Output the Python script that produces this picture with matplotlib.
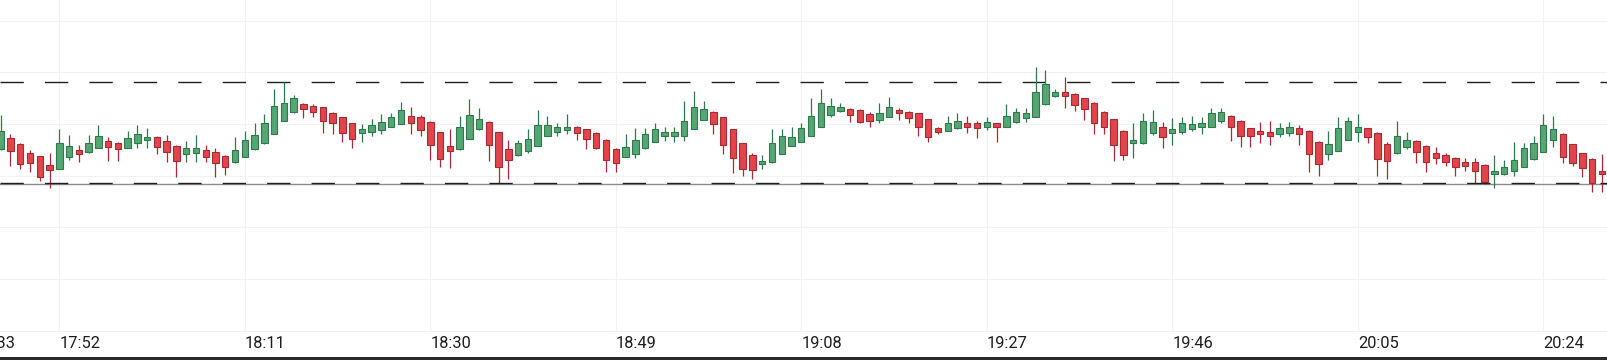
import matplotlib
matplotlib.use('Agg')
import matplotlib.pyplot as plt
import numpy as np
import pandas as pd
from matplotlib.patches import Rectangle

#%% Data: one-minute candles starting 17:46 (price levels)

start_time = '17:46'
opens = [733, 765, 747, 722, 712, 685, 674, 709, 730, 723, 737, 757, 752, 737, 750, 759, 770, 756, 743, 719,
         722, 730, 725, 712, 693, 710, 732, 750, 778, 817, 843, 869, 863, 858, 842, 828, 810, 782, 785, 790,
         800, 808, 832, 828, 815, 783, 742, 732, 763, 793, 815, 783, 733, 714, 728, 742, 772, 785, 790, 800,
         792, 782, 760, 733, 710, 718, 735, 755, 772, 772, 772, 793, 820, 843, 828, 792, 750, 715, 687, 693,
         718, 742, 755, 772, 800, 835, 847, 853, 850, 837, 820, 830, 850, 845, 840, 822, 795, 787, 795, 810,
         810, 798, 810, 800, 813, 825, 830, 867, 893, 903, 898, 885, 872, 845, 822, 788, 750, 750, 780, 800,
         782, 785, 792, 800, 800, 817, 832, 817, 795, 788, 783, 778, 782, 795, 787, 755, 718, 728, 760, 785,
         795, 782, 747, 720, 740, 757, 742, 720, 715, 707, 695, 693, 685, 657, 657, 667, 680, 702, 725, 760,
         778, 747, 720, 703, 668]
highs = [835, 778, 750, 730, 713, 720, 793, 774, 744, 775, 805, 770, 754, 788, 805, 795, 772, 774, 745, 757,
         775, 745, 735, 714, 770, 787, 810, 837, 912, 935, 895, 872, 867, 860, 844, 830, 812, 807, 822, 838,
         840, 873, 860, 835, 817, 785, 792, 832, 882, 855, 817, 785, 760, 760, 792, 850, 832, 812, 837, 802,
         794, 784, 762, 735, 778, 797, 795, 810, 800, 800, 877, 908, 878, 847, 830, 794, 752, 720, 715, 792,
         792, 800, 812, 885, 912, 885, 872, 857, 852, 845, 872, 890, 855, 847, 842, 824, 800, 832, 840, 832,
         817, 830, 812, 868, 857, 855, 980, 970, 912, 948, 900, 887, 874, 847, 824, 790, 810, 840, 850, 813,
         825, 828, 832, 828, 855, 855, 835, 819, 797, 815, 818, 810, 815, 805, 789, 757, 787, 828, 828, 837,
         797, 784, 755, 818, 783, 760, 744, 738, 720, 709, 705, 705, 687, 715, 700, 753, 752, 773, 837, 832,
         780, 749, 722, 705, 718]
lows = [730, 682, 673, 665, 638, 615, 672, 700, 695, 722, 736, 697, 697, 736, 737, 735, 718, 695, 650, 695,
        695, 695, 650, 655, 692, 709, 731, 749, 777, 816, 842, 825, 830, 782, 777, 755, 735, 755, 772, 778,
        799, 807, 777, 772, 700, 678, 675, 731, 762, 790, 697, 630, 643, 713, 720, 741, 771, 772, 778, 760,
        732, 732, 665, 665, 709, 705, 732, 754, 758, 755, 758, 792, 819, 777, 717, 660, 652, 643, 673, 692,
        717, 741, 754, 771, 799, 830, 843, 815, 812, 798, 812, 829, 820, 812, 772, 755, 778, 786, 793, 782,
        767, 790, 755, 799, 812, 815, 829, 866, 888, 855, 847, 820, 777, 777, 697, 700, 705, 749, 775, 735,
        745, 778, 788, 778, 799, 812, 758, 740, 740, 750, 745, 768, 772, 745, 665, 652, 700, 727, 759, 755,
        750, 652, 643, 719, 732, 692, 665, 687, 683, 652, 667, 630, 628, 617, 655, 653, 678, 701, 724, 740,
        692, 682, 648, 603, 603]
closes = [788, 728, 687, 692, 650, 670, 752, 742, 719, 752, 773, 740, 732, 765, 778, 770, 740, 723, 697, 735,
          735, 709, 692, 680, 730, 760, 775, 810, 863, 872, 885, 852, 843, 817, 812, 782, 763, 793, 805, 815,
          828, 850, 812, 790, 745, 702, 728, 800, 835, 823, 745, 680, 700, 750, 764, 805, 805, 800, 800, 782,
          763, 735, 700, 692, 738, 760, 778, 792, 783, 783, 818, 858, 854, 807, 745, 705, 673, 670, 698, 752,
          773, 768, 795, 832, 872, 863, 858, 835, 815, 817, 840, 858, 840, 825, 800, 768, 783, 810, 817, 800,
          795, 815, 800, 832, 845, 840, 903, 928, 903, 893, 865, 852, 812, 800, 745, 715, 760, 818, 813, 768,
          792, 810, 808, 810, 840, 845, 800, 772, 772, 778, 772, 795, 800, 778, 718, 687, 747, 795, 817, 800,
          768, 702, 698, 773, 760, 723, 693, 705, 693, 678, 683, 668, 633, 667, 680, 700, 735, 752, 805, 792,
          710, 692, 675, 632, 658]

# horizontal levels (dashed range and solid line)
range_high = 935
range_low = 632
last_level = 628
grid_levels = [188, 343, 498, 653, 808, 963, 1118]

# time axis labels every 19 minutes
tick_times = ['17:52', '18:11', '18:30', '18:49', '19:08', '19:27', '19:46', '20:05', '20:24']

#%% Build frame

times = pd.date_range('2024-01-01 ' + start_time, periods=len(opens), freq='1min')
df = pd.DataFrame({'open': opens, 'high': highs, 'low': lows, 'close': closes}, index=times)
x = np.arange(len(df))
up = df['close'] >= df['open']

green_fill, green_edge = '#55a673', '#2f7a4c'
red_fill, red_edge = '#e2444c', '#a92a31'

#%% Plot

plt.rcParams['font.family'] = ['Roboto', 'DejaVu Sans']
plt.rcParams['lines.scale_dashes'] = False

fig = plt.figure(figsize=(16.08, 3.6), dpi=100)
ax = fig.add_axes([0, 28 / 360, 1, 332 / 360])
ax.set_xlim(-0.072, 164.63)
ax.set_ylim(184, 1180)

for lev in grid_levels:
    ax.axhline(lev, color='#f1f2f5', lw=0.8, zorder=0)

tick_x = [x[times.strftime('%H:%M') == t][0] for t in tick_times]
for tx in tick_x:
    ax.axvline(tx, color='#f1f2f5', lw=0.8, zorder=0)

# wicks
ax.vlines(x[up], df['low'][up], df['high'][up], color=green_edge, lw=0.9, zorder=2)
ax.vlines(x[~up], df['low'][~up], df['high'][~up], color=red_edge, lw=0.9, zorder=2)

# bodies
body_lo = np.minimum(df['open'], df['close'])
body_h = np.maximum(np.abs(df['close'] - df['open']), 3)
ax.bar(x[up], body_h[up], bottom=body_lo[up], width=0.66, color=green_fill,
       edgecolor=green_edge, linewidth=0.8, zorder=3)
ax.bar(x[~up], body_h[~up], bottom=body_lo[~up], width=0.66, color=red_fill,
       edgecolor=red_edge, linewidth=0.8, zorder=3)

# range lines
ax.axhline(last_level, color='#8c8c8c', lw=1.0, zorder=1)
ax.axhline(range_high, color='#1f1f1f', lw=1.0, dashes=(16.8, 15.2), zorder=1)
ax.axhline(range_low, color='#1f1f1f', lw=1.0, dashes=(16.8, 15.2), zorder=4)

for s in ax.spines.values():
    s.set_visible(False)
ax.set_xticks([])
ax.set_yticks([])

# time labels, left aligned on the grid lines
lab_y = -16.3 / 332
for tx, t in zip(tick_x, tick_times):
    ax.text(tx + 0.02, lab_y, t, transform=ax.get_xaxis_transform(), ha='left', va='baseline',
            fontsize=11.8, color='#1e1e1e', clip_on=False)
# partly hidden label at the left edge (cut off in the original too)
ax.text(-2.63, lab_y, '17:33', transform=ax.get_xaxis_transform(), ha='left', va='baseline',
        fontsize=11.8, color='#1e1e1e', clip_on=False)

# dark bar along the bottom
fig.add_artist(Rectangle((0, 0), 1, 3 / 360, transform=fig.transFigure, color='#2a2a2a', lw=0))

plt.savefig('out.png', dpi=100)
plt.close()
